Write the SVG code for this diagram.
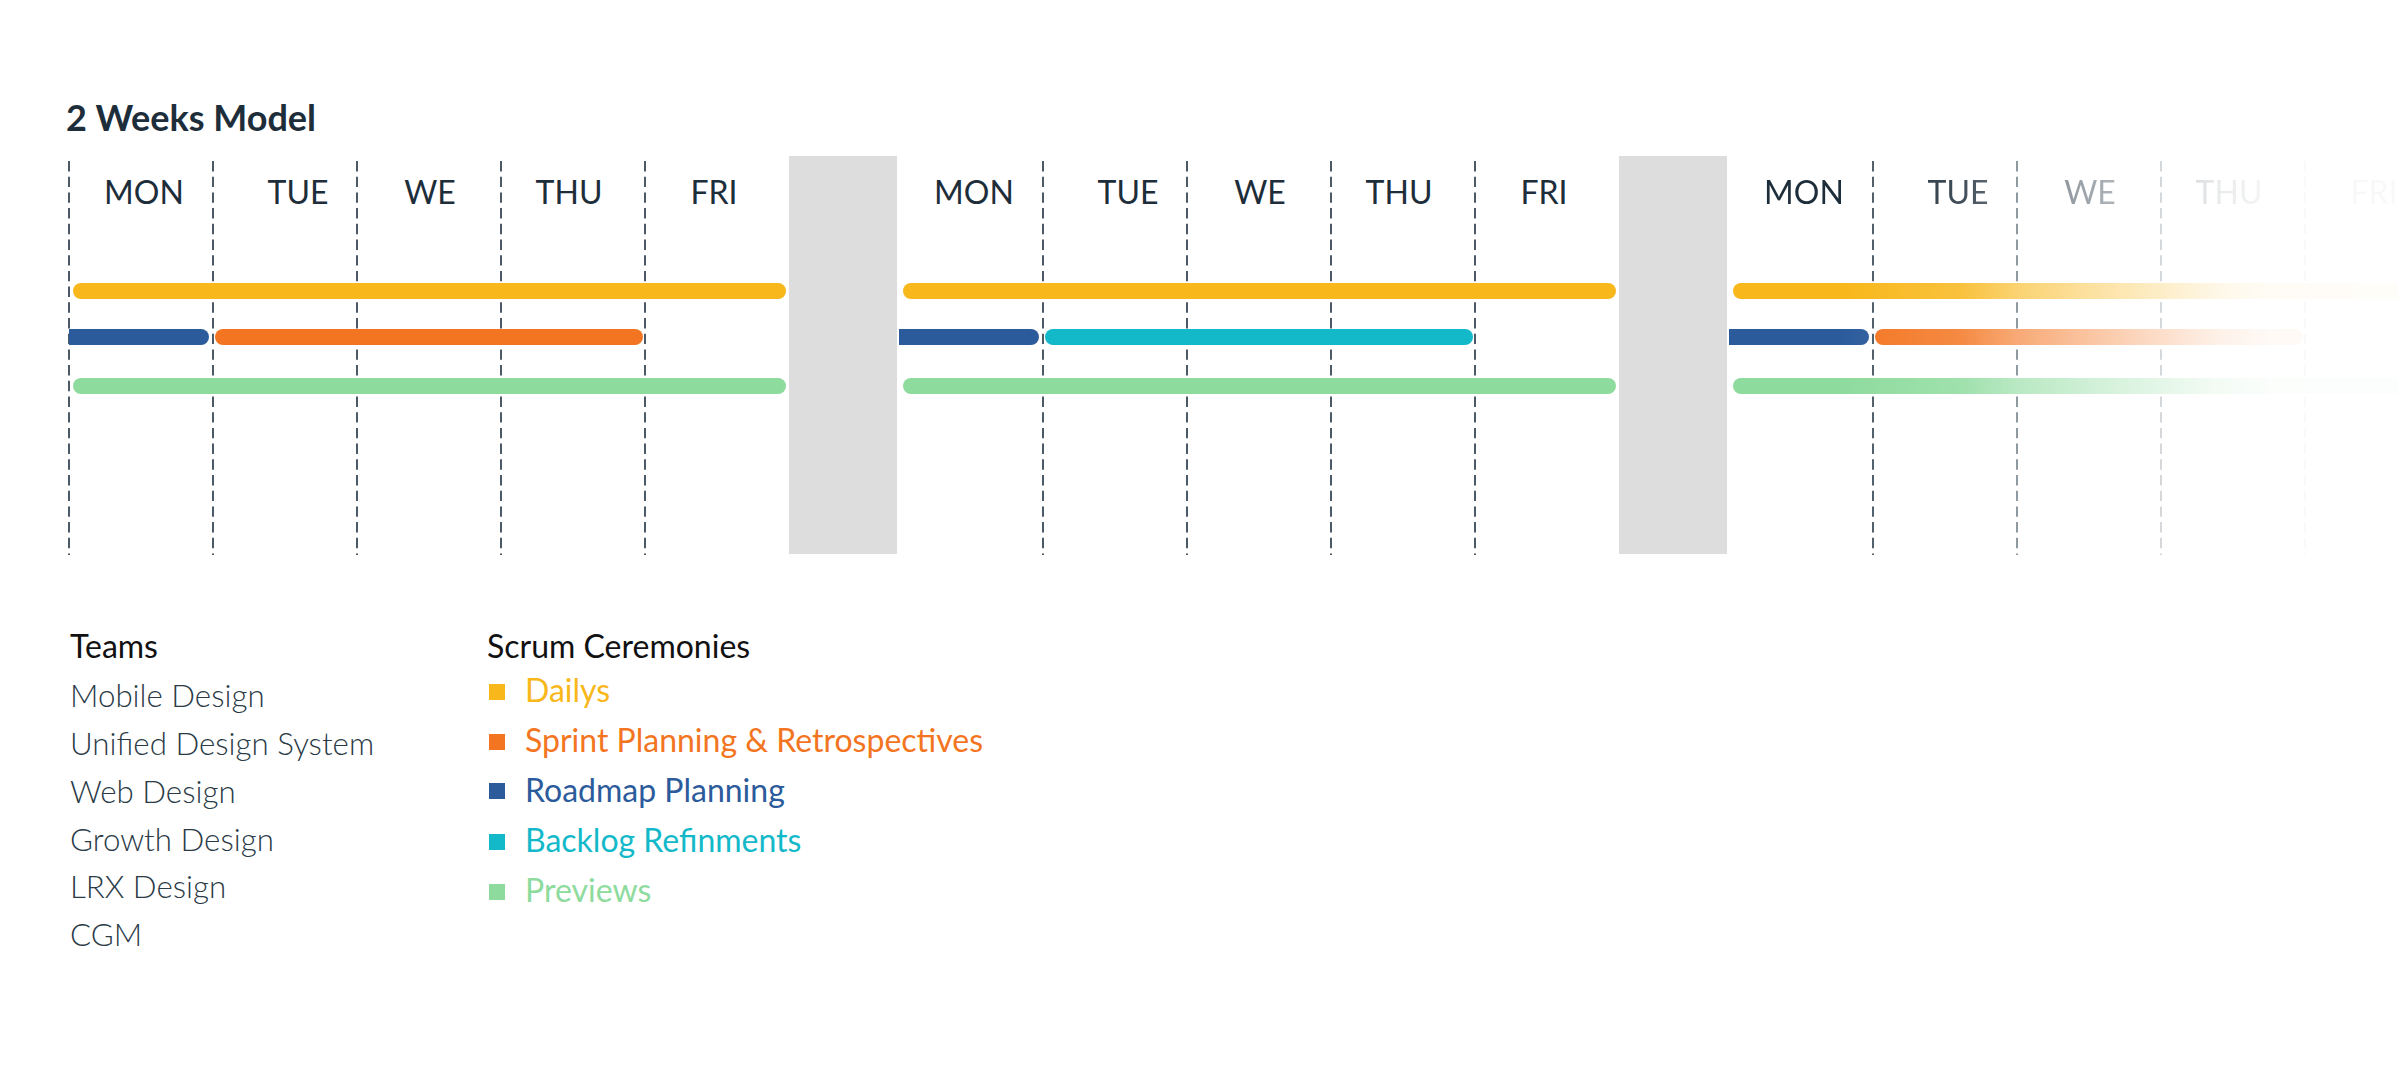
<svg xmlns="http://www.w3.org/2000/svg" width="2398" height="1084" viewBox="0 0 2398 1084">
<style>
.title{font-family:Lato,"Liberation Sans",sans-serif;font-weight:700;font-size:36px;fill:#1d2d3a}
.day{font-family:Lato,"Liberation Sans",sans-serif;font-size:32px;fill:#1d2d3a;text-anchor:middle}
.dash{stroke:#4b5a66;stroke-width:2;stroke-dasharray:10.4 5.3;fill:none}
.gray{fill:#dddddd}
.head{font-family:Lato,"Liberation Sans",sans-serif;font-size:32px;fill:#111111}
.team{font-family:Lato,"Liberation Sans",sans-serif;font-weight:300;font-size:31.3px;fill:#2a3a46}
.leg{font-family:Lato,"Liberation Sans",sans-serif;font-size:32px}
.yel{fill:#f8b71a}.ora{fill:#f37521}.blu{fill:#2c5b9c}.cya{fill:#13b9c9}.gre{fill:#8edb9e}
</style>
<defs>
<linearGradient id="fadeGrad" gradientUnits="userSpaceOnUse" x1="1840" y1="0" x2="2398" y2="0">
<stop offset="0" stop-color="#fff" stop-opacity="1"/>
<stop offset="0.215" stop-color="#fff" stop-opacity="0.85"/>
<stop offset="0.317" stop-color="#fff" stop-opacity="0.62"/>
<stop offset="0.448" stop-color="#fff" stop-opacity="0.42"/>
<stop offset="0.575" stop-color="#fff" stop-opacity="0.24"/>
<stop offset="0.681" stop-color="#fff" stop-opacity="0.1"/>
<stop offset="0.77" stop-color="#fff" stop-opacity="0.04"/>
<stop offset="1" stop-color="#fff" stop-opacity="0.03"/>
</linearGradient>
<mask id="fade" maskUnits="userSpaceOnUse" x="0" y="0" width="2398" height="1084">
<rect x="0" y="0" width="2398" height="1084" fill="url(#fadeGrad)"/>
</mask>
</defs>
<rect width="2398" height="1084" fill="#ffffff"/>

<g id="title"><text class="title" x="66" y="131">2 Weeks Model</text></g>

<g id="breaks">
<rect class="gray" x="789" y="156" width="108" height="398"/>
<rect class="gray" x="1619" y="156" width="108" height="398"/>
</g>

<g id="week1">
<g id="week1-grid">
<line class="dash" x1="69" y1="161" x2="69" y2="555"/>
<line class="dash" x1="213" y1="161" x2="213" y2="555"/>
<line class="dash" x1="357" y1="161" x2="357" y2="555"/>
<line class="dash" x1="501" y1="161" x2="501" y2="555"/>
<line class="dash" x1="645" y1="161" x2="645" y2="555"/>
</g>
<g id="week1-days">
<text class="day" x="144" y="204">MON</text>
<text class="day" x="298" y="204">TUE</text>
<text class="day" x="430" y="204">WE</text>
<text class="day" x="569" y="204">THU</text>
<text class="day" x="714" y="204">FRI</text>
</g>
<g id="week1-bars">
<rect class="yel" x="73" y="283" width="713" height="16" rx="8"/>
<path class="blu" d="M69,329 H201 A8,8 0 0 1 201,345 H69 Z"/>
<rect class="ora" x="215" y="329" width="428" height="16" rx="8"/>
<rect class="gre" x="73" y="378" width="713" height="16" rx="8"/>
</g>
</g>

<g id="week2">
<g id="week2-grid">
<line class="dash" x1="1043" y1="161" x2="1043" y2="555"/>
<line class="dash" x1="1187" y1="161" x2="1187" y2="555"/>
<line class="dash" x1="1331" y1="161" x2="1331" y2="555"/>
<line class="dash" x1="1475" y1="161" x2="1475" y2="555"/>
</g>
<g id="week2-days">
<text class="day" x="974" y="204">MON</text>
<text class="day" x="1128" y="204">TUE</text>
<text class="day" x="1260" y="204">WE</text>
<text class="day" x="1399" y="204">THU</text>
<text class="day" x="1544" y="204">FRI</text>
</g>
<g id="week2-bars">
<rect class="yel" x="903" y="283" width="713" height="16" rx="8"/>
<path class="blu" d="M899,329 H1031 A8,8 0 0 1 1031,345 H899 Z"/>
<rect class="cya" x="1045" y="329" width="428" height="16" rx="8"/>
<rect class="gre" x="903" y="378" width="713" height="16" rx="8"/>
</g>
</g>

<g id="week3" mask="url(#fade)">
<g id="week3-grid">
<line class="dash" x1="1873" y1="161" x2="1873" y2="555"/>
<line class="dash" x1="2017" y1="161" x2="2017" y2="555"/>
<line class="dash" x1="2161" y1="161" x2="2161" y2="555"/>
<line class="dash" x1="2305" y1="161" x2="2305" y2="555"/>
</g>
<g id="week3-days">
<text class="day" x="1804" y="204">MON</text>
<text class="day" x="1958" y="204">TUE</text>
<text class="day" x="2090" y="204">WE</text>
<text class="day" x="2229" y="204">THU</text>
<text class="day" x="2374" y="204">FRI</text>
</g>
<g id="week3-bars">
<rect class="yel" x="1733" y="283" width="713" height="16" rx="8"/>
<path class="blu" d="M1729,329 H1861 A8,8 0 0 1 1861,345 H1729 Z"/>
<rect class="ora" x="1875" y="329" width="428" height="16" rx="8"/>
<rect class="gre" x="1733" y="378" width="713" height="16" rx="8"/>
</g>
</g>

<g id="legend-teams">
<text class="head" x="70" y="658">Teams</text>
<text class="team" x="70" y="707">Mobile Design</text>
<text class="team" x="70" y="755">Unified Design System</text>
<text class="team" x="70" y="803">Web Design</text>
<text class="team" x="70" y="851">Growth Design</text>
<text class="team" x="70" y="898">LRX Design</text>
<text class="team" x="70" y="946">CGM</text>
</g>

<g id="legend-ceremonies">
<text class="head" x="487" y="658">Scrum Ceremonies</text>
<g id="leg-dailys"><rect class="yel" x="489" y="684" width="16" height="16"/><text class="leg yel" x="525" y="702">Dailys</text></g>
<g id="leg-sprint"><rect class="ora" x="489" y="734" width="16" height="16"/><text class="leg ora" x="525" y="752">Sprint Planning &amp; Retrospectives</text></g>
<g id="leg-roadmap"><rect class="blu" x="489" y="783" width="16" height="16"/><text class="leg blu" x="525" y="802">Roadmap Planning</text></g>
<g id="leg-backlog"><rect class="cya" x="489" y="834" width="16" height="16"/><text class="leg cya" x="525" y="852">Backlog Refinments</text></g>
<g id="leg-previews"><rect class="gre" x="489" y="884" width="16" height="16"/><text class="leg gre" x="525" y="902">Previews</text></g>
</g>
</svg>
